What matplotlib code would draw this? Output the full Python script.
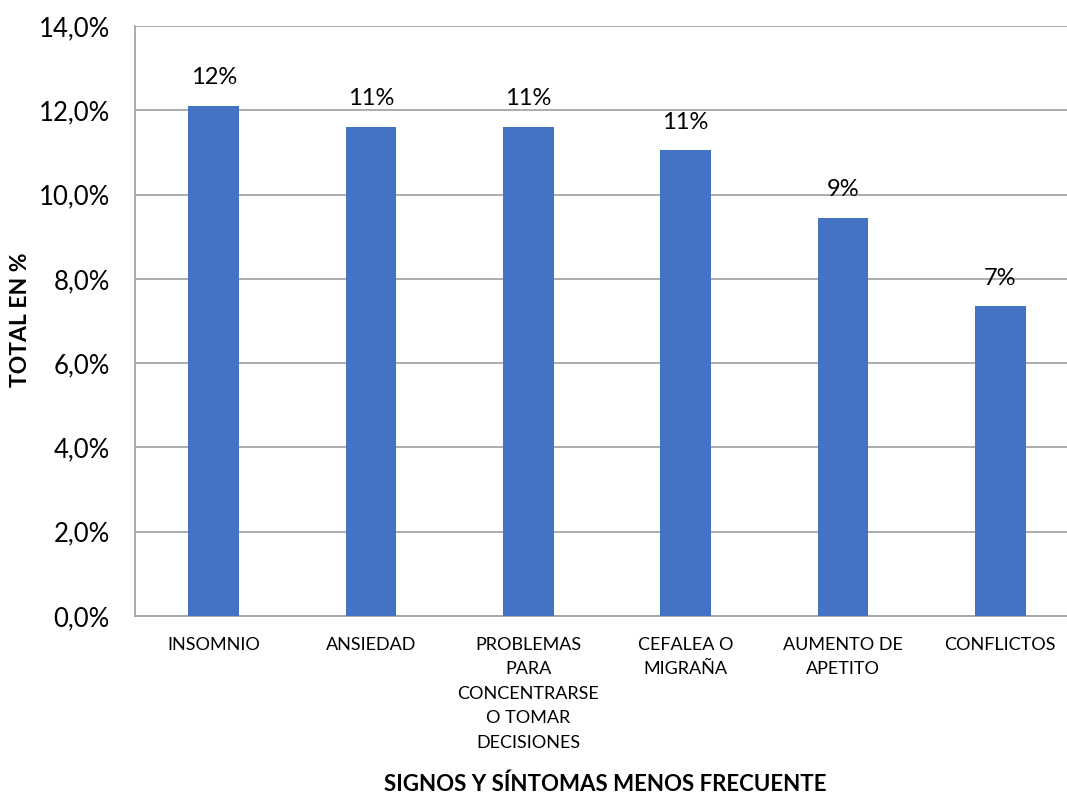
import matplotlib
matplotlib.use("Agg")
import matplotlib.pyplot as plt
from matplotlib.ticker import FuncFormatter

plt.rcParams['font.family'] = ['Lato', 'DejaVu Sans']

categorias = ["INSOMNIO", "ANSIEDAD", "PROBLEMAS\nPARA\nCONCENTRARSE\nO TOMAR\nDECISIONES",
              "CEFALEA O\nMIGRAÑA", "AUMENTO DE\nAPETITO", "CONFLICTOS"]
valores = [12.1, 11.6, 11.6, 11.05, 9.45, 7.35]
etiquetas = ["12%", "11%", "11%", "11%", "9%", "7%"]

fig = plt.figure(figsize=(10.67, 7.96), dpi=100)
ax = fig.add_axes([135/1067, 1 - 616/796, 944/1067, 590/796])

x = range(len(categorias))
bars = ax.bar(x, valores, width=0.32, color="#4472C4", zorder=3)

for b, lab in zip(bars, etiquetas):
    ax.text(b.get_x() + b.get_width()/2, b.get_height() + 0.42, lab,
            ha="center", va="bottom", fontsize=17)

ax.set_ylim(0, 14)
ax.set_xlim(-0.5, len(categorias) - 0.5)
ax.set_yticks([0, 2, 4, 6, 8, 10, 12, 14])
ax.yaxis.set_major_formatter(FuncFormatter(lambda v, p: f"{v:.1f}%".replace(".", ",")))
ax.set_xticks(list(x))
ax.set_xticklabels(categorias, fontsize=13, linespacing=1.65, va="top")
ax.tick_params(axis="y", labelsize=18.5, length=0, pad=18)
ax.tick_params(axis="x", length=0, pad=15)

ax.grid(axis="y", color="#A6A6A6", linewidth=1.3, zorder=0)
for s in ["top", "right"]:
    ax.spines[s].set_visible(False)
ax.spines["left"].set_color("#A6A6A6")
ax.spines["bottom"].set_color("#A6A6A6")
ax.spines["left"].set_linewidth(1.3)
ax.spines["bottom"].set_linewidth(1.3)

fig.text(605/1067, 1 - 784/796, "SIGNOS Y SÍNTOMAS MENOS FRECUENTE",
         ha="center", va="center", fontsize=16, fontweight="bold")
fig.text(21/1067, 1 - 320/796, "TOTAL EN %", rotation=90,
         ha="center", va="center", fontsize=16.5, fontweight="bold")

fig.savefig("out.png", dpi=100)
